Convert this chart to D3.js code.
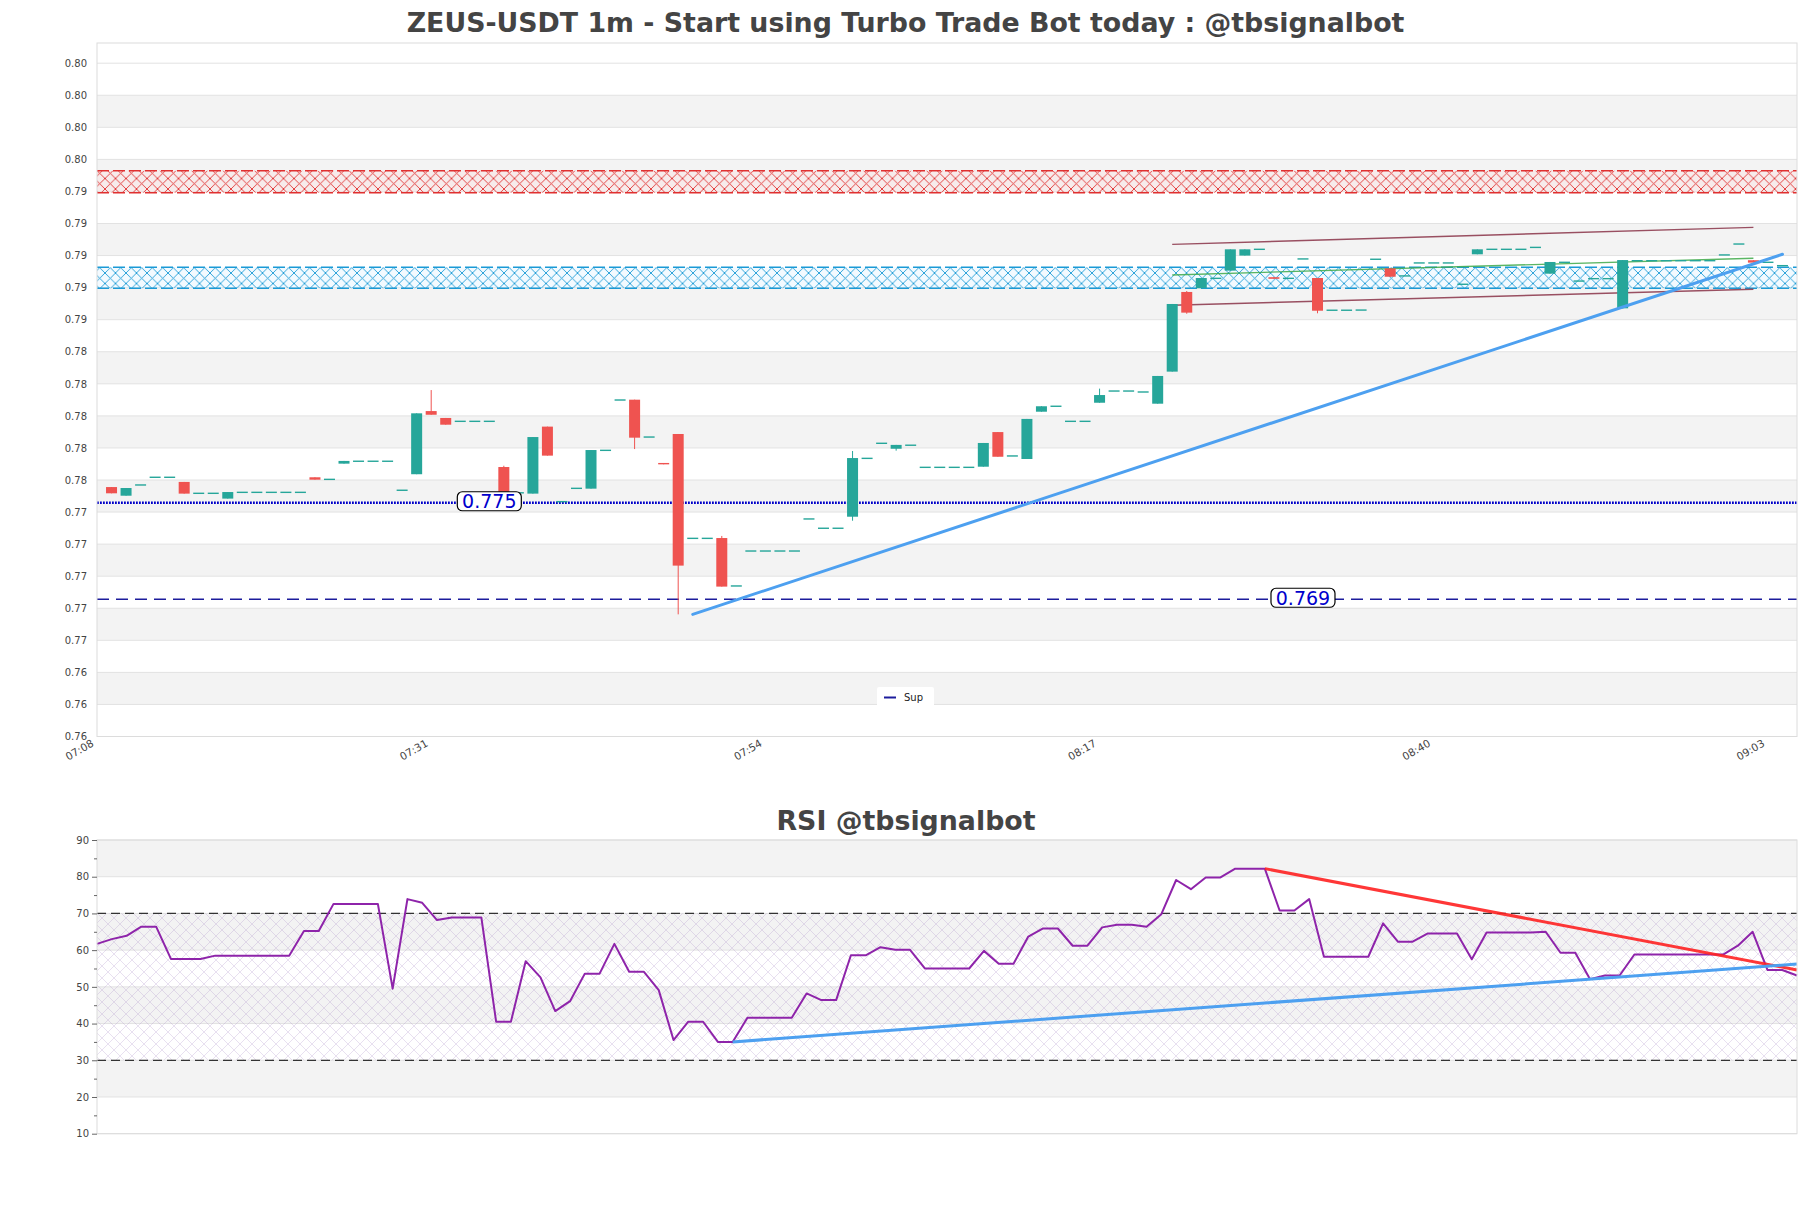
<!DOCTYPE html>
<html><head><meta charset="utf-8">
<script src="https://cdn.jsdelivr.net/npm/d3@7"></script>
<style>body{margin:0;background:#fff}svg{display:block}text{font-family:"DejaVu Sans",sans-serif}</style>
</head><body><svg id="c" width="1811" height="1208"></svg>
<script>
// ---------------- DATA ----------------
const times = ["07:09","07:10","07:11","07:12","07:13","07:14","07:15","07:16","07:17","07:18","07:19","07:20","07:21","07:22","07:23","07:24","07:25","07:26","07:27","07:28","07:29","07:30","07:31","07:32","07:33","07:34","07:35","07:36","07:37","07:38","07:39","07:40","07:41","07:42","07:43","07:44","07:45","07:46","07:47","07:48","07:49","07:50","07:51","07:52","07:53","07:54","07:55","07:56","07:57","07:58","07:59","08:00","08:01","08:02","08:03","08:04","08:05","08:06","08:07","08:08","08:09","08:10","08:11","08:12","08:13","08:14","08:15","08:16","08:17","08:18","08:19","08:20","08:21","08:22","08:23","08:24","08:25","08:26","08:27","08:28","08:29","08:30","08:31","08:32","08:33","08:34","08:35","08:36","08:37","08:38","08:39","08:40","08:41","08:42","08:43","08:44","08:45","08:46","08:47","08:48","08:49","08:50","08:51","08:52","08:53","08:54","08:55","08:56","08:57","08:58","08:59","09:00","09:01","09:02","09:03","09:04"];
const opens  = [0.77556,0.77502,0.77569,0.77617,0.77617,0.77588,0.77517,0.77517,0.77484,0.77523,0.77523,0.77523,0.77523,0.77523,0.77617,0.77604,0.77702,0.77717,0.77717,0.77717,0.77536,0.77636,0.78030,0.77987,0.77966,0.77966,0.77966,0.77681,0.77520,0.77515,0.77933,0.77465,0.77548,0.77546,0.77785,0.78099,0.78101,0.77868,0.77706,0.77887,0.77236,0.77236,0.77238,0.76939,0.77157,0.77157,0.77157,0.77157,0.77357,0.77299,0.77299,0.77371,0.77735,0.77829,0.77795,0.77817,0.77679,0.77679,0.77679,0.77679,0.77683,0.77899,0.77750,0.77731,0.78026,0.78060,0.77966,0.77966,0.78082,0.78155,0.78155,0.78149,0.78076,0.78276,0.78773,0.78796,0.78858,0.78906,0.79000,0.79039,0.78865,0.78858,0.78979,0.78860,0.78659,0.78659,0.78660,0.78977,0.78920,0.78873,0.78954,0.78954,0.78954,0.78821,0.79008,0.79039,0.79039,0.79039,0.79051,0.78887,0.78958,0.78841,0.78856,0.78856,0.78671,0.78968,0.78968,0.78968,0.78968,0.78968,0.78968,0.79004,0.79072,0.78971,0.78958,0.78937];
const closes = [0.77517,0.77550,0.77569,0.77617,0.77617,0.77515,0.77517,0.77517,0.77525,0.77523,0.77523,0.77523,0.77523,0.77523,0.77602,0.77604,0.77719,0.77717,0.77717,0.77717,0.77536,0.78016,0.78007,0.77945,0.77966,0.77966,0.77966,0.77520,0.77520,0.77868,0.77752,0.77465,0.77548,0.77787,0.77785,0.78099,0.77864,0.77868,0.77698,0.77066,0.77236,0.77236,0.76935,0.76939,0.77157,0.77157,0.77157,0.77157,0.77357,0.77299,0.77299,0.77737,0.77735,0.77829,0.77819,0.77817,0.77679,0.77679,0.77679,0.77679,0.77831,0.77745,0.77750,0.77981,0.78060,0.78060,0.77966,0.77966,0.78130,0.78155,0.78155,0.78149,0.78249,0.78698,0.78644,0.78860,0.78858,0.79039,0.79039,0.79039,0.78855,0.78858,0.78979,0.78656,0.78659,0.78659,0.78660,0.78977,0.78868,0.78873,0.78954,0.78954,0.78954,0.78821,0.79039,0.79039,0.79039,0.79039,0.79051,0.78960,0.78958,0.78841,0.78856,0.78856,0.78972,0.78968,0.78968,0.78968,0.78968,0.78968,0.78968,0.79004,0.79072,0.78956,0.78958,0.78937];
// wick extremes that reach beyond the body (index -> value)
const wickHighs = {22:0.78161, 27:0.77689, 42:0.77251, 51:0.77781, 68:0.78170, 74:0.78779};
const wickLows  = {36:0.77793, 39:0.76762, 51:0.77346, 54:0.77783, 74:0.78637, 83:0.78640};

const priceTicks = [0.760,0.762,0.764,0.766,0.768,0.770,0.772,0.774,0.776,0.778,0.780,0.782,0.784,0.786,0.788,0.790,0.792,0.794,0.796,0.798,0.800,0.802];
const timeTicks = ["07:08","07:31","07:54","08:17","08:40","09:03"];

const resistZone = [0.79392, 0.79529];
const supportZone = [0.78796, 0.78927];
const levelValues = [0.77458, 0.76856];
const levelLabels = ["0.775", "0.769"];
const levelLabelTimes = ["07:35", "08:31"];
const legendLabels = ["Sup"];

const channelIdx = [73, 113];
const channelUpper = [0.79070, 0.79176];
const channelMid = [0.78879, 0.78983];
const channelLower = [0.78690, 0.78790];
const trendIdx = [40, 115];
const trendVals = [0.76762, 0.79008];

const rsi = [61.7,63.0,63.9,66.4,66.4,57.6,57.6,57.6,58.5,58.5,58.5,58.5,58.5,58.5,65.2,65.2,72.6,72.6,72.6,72.6,49.5,73.9,72.9,68.2,68.9,68.9,68.9,40.5,40.5,57.0,52.6,43.4,46.1,53.6,53.6,61.7,54.1,54.1,49.1,35.5,40.5,40.5,35.0,35.0,41.6,41.6,41.6,41.6,48.2,46.4,46.4,58.6,58.6,60.8,60.1,60.1,55.0,55.0,55.0,55.0,59.8,56.3,56.3,63.7,65.9,65.9,61.2,61.2,66.2,66.9,66.9,66.4,69.8,79.1,76.6,79.8,79.8,82.2,82.2,82.2,70.8,70.8,73.9,58.2,58.2,58.2,58.2,67.3,62.3,62.3,64.5,64.5,64.5,57.5,64.8,64.8,64.8,64.8,65.0,59.3,59.3,52.1,53.1,53.1,58.8,58.8,58.8,58.8,58.8,58.8,58.8,61.2,65.0,54.6,54.6,53.1];
const rsiTicks = [10,20,30,40,50,60,70,80,90];
const rsiMinorTicks = [15,25,35,45,55,65,75,85];
const rsiBounds = [30, 70];
const rsiRedIdx = [79, 115], rsiRedVals = [82.2, 54.6];
const rsiBlueIdx = [43, 115], rsiBlueVals = [35.0, 56.2];

const mainTitle = "ZEUS-USDT 1m - Start using Turbo Trade Bot today : @tbsignalbot";
const rsiTitle = "RSI @tbsignalbot";

// ---------------- DRAW ----------------
const svg = d3.select('#c');
const W = 1811, H = 1208;
svg.append('rect').attr('width', W).attr('height', H).attr('fill', '#fff');

const parse = d3.timeParse('%H:%M');
const fmt = d3.timeFormat('%H:%M');
const L = 97, R = 1797, T = 43, B = 736.5;
const x = d3.scaleTime().domain([parse('07:08'), parse('09:05')]).range([L, R]);
const y = d3.scaleLinear().domain([0.760, 0.80326]).range([B, T]);

const defs = svg.append('defs');
function hatch(id, color, size, sw, bg) {
  const p = defs.append('pattern').attr('id', id).attr('patternUnits', 'userSpaceOnUse')
    .attr('width', size).attr('height', size);
  if (bg) p.append('rect').attr('width', size).attr('height', size).attr('fill', bg);
  p.append('path').attr('d', `M0,0L${size},${size}M${size},0L0,${size}M-1,${size-1}L1,${size+1}M${size-1},-1L${size+1},1`)
    .attr('stroke', color).attr('stroke-width', sw).attr('fill', 'none');
}
hatch('hRed', '#e03030', 10.5, 0.9, 'rgba(255,220,220,0.35)');
hatch('hBlue', '#1a9ad6', 10.5, 0.9, 'rgba(220,240,255,0.35)');
hatch('hRsi', 'rgba(170,140,200,0.45)', 12, 0.6, null);
defs.append('clipPath').attr('id', 'clipMain').append('rect').attr('x', L).attr('y', T).attr('width', R - L).attr('height', B - T);

// Title
svg.append('text').attr('x', 905.5).attr('y', 32).attr('text-anchor', 'middle')
  .attr('font-size', 26.8).attr('font-weight', 'bold').attr('fill', '#444').text(mainTitle);

const gm = svg.append('g');
// bands
for (let k = 0; k < priceTicks.length - 1; k++) {
  if (k % 2 === 1) gm.append('rect').attr('x', L).attr('width', R - L)
    .attr('y', y(priceTicks[k + 1])).attr('height', y(priceTicks[k]) - y(priceTicks[k + 1])).attr('fill', '#f3f3f3');
}
gm.selectAll('line.grid').data(priceTicks).join('line').attr('class', 'grid')
  .attr('x1', L).attr('x2', R).attr('y1', d => y(d)).attr('y2', d => y(d))
  .attr('stroke', '#e2e2e2').attr('stroke-width', 1);

// zones
function zone(vals, fill, color) {
  gm.append('rect').attr('x', L).attr('width', R - L).attr('y', y(vals[1])).attr('height', y(vals[0]) - y(vals[1]))
    .attr('fill', fill);
  vals.forEach(v => gm.append('line').attr('x1', L).attr('x2', R).attr('y1', y(v)).attr('y2', y(v))
    .attr('stroke', color).attr('stroke-width', 1.3).attr('stroke-dasharray', '12,4'));
}
zone(resistZone, 'url(#hRed)', '#e03030');
zone(supportZone, 'url(#hBlue)', '#1a9ad6');

// horizontal levels
gm.append('line').attr('x1', L).attr('x2', R).attr('y1', y(levelValues[0])).attr('y2', y(levelValues[0]))
  .attr('stroke', '#0000c8').attr('stroke-width', 2.6).attr('stroke-dasharray', '1.8,1.2');
gm.append('line').attr('x1', L).attr('x2', R).attr('y1', y(levelValues[1])).attr('y2', y(levelValues[1]))
  .attr('stroke', '#1c1c9c').attr('stroke-width', 1.5).attr('stroke-dasharray', '12,7');

// channel
const gc = gm.append('g').attr('clip-path', 'url(#clipMain)');
const xi = i => x(parse(times[i]));
[[channelUpper, '#8a3348'], [channelLower, '#8a3348'], [channelMid, '#3faa4a']].forEach(([v, c]) => {
  gc.append('line').attr('x1', xi(channelIdx[0])).attr('x2', xi(channelIdx[1]))
    .attr('y1', y(v[0])).attr('y2', y(v[1])).attr('stroke', c).attr('stroke-width', 1.4).attr('opacity', 0.85);
});

// candles
const bw = 11;
const cg = gm.append('g');
times.forEach((t, i) => {
  const o = opens[i], c = closes[i];
  const hi = wickHighs[i] !== undefined ? wickHighs[i] : Math.max(o, c);
  const lo = wickLows[i] !== undefined ? wickLows[i] : Math.min(o, c);
  const col = c < o ? '#ef5350' : '#26a69a';
  const cx = xi(i);
  if (hi > lo) cg.append('line').attr('x1', cx).attr('x2', cx).attr('y1', y(hi)).attr('y2', y(lo))
    .attr('stroke', col).attr('stroke-width', 1);
  const top = y(Math.max(o, c)), bot = y(Math.min(o, c));
  const h = Math.max(bot - top, 1.4);
  cg.append('rect').attr('x', cx - bw / 2).attr('width', bw).attr('y', (top + bot) / 2 - h / 2).attr('height', h).attr('fill', col);
});

// main trend line
gm.append('line').attr('x1', xi(trendIdx[0])).attr('x2', xi(trendIdx[1]))
  .attr('y1', y(trendVals[0])).attr('y2', y(trendVals[1]))
  .attr('stroke', '#4da0f0').attr('stroke-width', 3).attr('stroke-linecap', 'round');

// level labels
levelValues.forEach((v, k) => {
  const cx = x(parse(levelLabelTimes[k])), cy = y(v) - 1.5;
  const g = gm.append('g');
  g.append('rect').attr('x', cx - 32).attr('y', cy - 9.5).attr('width', 64).attr('height', 19).attr('rx', 5)
    .attr('fill', '#fff').attr('stroke', '#000').attr('stroke-width', 1.2);
  g.append('text').attr('x', cx).attr('y', cy + 7).attr('text-anchor', 'middle').attr('font-size', 19)
    .attr('fill', '#0000cc').text(levelLabels[k]);
});

// legend
const lg = gm.append('g');
lg.append('rect').attr('x', 877).attr('y', 687).attr('width', 57).attr('height', 20).attr('fill', '#fff').attr('rx', 2);
lg.append('line').attr('x1', 884).attr('x2', 896).attr('y1', 697.5).attr('y2', 697.5).attr('stroke', '#1c1c9c').attr('stroke-width', 2);
lg.append('text').attr('x', 904).attr('y', 701).attr('font-size', 10).attr('fill', '#222').text(legendLabels[0]);

// border
gm.append('rect').attr('x', L).attr('y', T).attr('width', R - L).attr('height', B - T)
  .attr('fill', 'none').attr('stroke', '#dcdcdc').attr('stroke-width', 1);

// axes
const ya = svg.append('g').attr('transform', `translate(${L},0)`)
  .call(d3.axisLeft(y).tickValues(priceTicks).tickFormat(d3.format('.2f')).tickSize(0).tickPadding(10));
ya.select('.domain').remove();
ya.selectAll('text').attr('font-size', 10).attr('fill', '#444').attr('font-family', '"DejaVu Sans",sans-serif');

const xa = svg.append('g').attr('transform', `translate(0,${B})`)
  .call(d3.axisBottom(x).tickValues(timeTicks.map(parse)).tickFormat(fmt).tickSize(0).tickPadding(0));
xa.select('.domain').remove();
xa.selectAll('text').attr('font-size', 10.5).attr('fill', '#444').attr('font-family', '"DejaVu Sans",sans-serif')
  .attr('text-anchor', 'end').attr('dy', null).attr('y', 0)
  .attr('transform', 'translate(-3,9) rotate(-30)');

// ---------------- RSI ----------------
const RT = 840, RB = 1133.7;
const rx = d3.scaleLinear().domain([0, rsi.length - 1]).range([L, R]);
const ry = d3.scaleLinear().domain([10, 90]).range([RB, RT]);

svg.append('text').attr('x', 906).attr('y', 830).attr('text-anchor', 'middle')
  .attr('font-size', 26.8).attr('font-weight', 'bold').attr('fill', '#444').text(rsiTitle);

const gr = svg.append('g');
for (let k = 0; k < rsiTicks.length - 1; k++) {
  if (k % 2 === 1) gr.append('rect').attr('x', L).attr('width', R - L)
    .attr('y', ry(rsiTicks[k + 1])).attr('height', ry(rsiTicks[k]) - ry(rsiTicks[k + 1])).attr('fill', '#f3f3f3');
}
gr.selectAll('line.grid').data(rsiTicks).join('line').attr('class', 'grid')
  .attr('x1', L).attr('x2', R).attr('y1', d => ry(d)).attr('y2', d => ry(d))
  .attr('stroke', '#e2e2e2').attr('stroke-width', 1);
gr.append('rect').attr('x', L).attr('width', R - L).attr('y', ry(rsiBounds[1])).attr('height', ry(rsiBounds[0]) - ry(rsiBounds[1]))
  .attr('fill', 'url(#hRsi)');
rsiBounds.forEach(v => gr.append('line').attr('x1', L).attr('x2', R).attr('y1', ry(v)).attr('y2', ry(v))
  .attr('stroke', '#333').attr('stroke-width', 1.3).attr('stroke-dasharray', '9,5'));

gr.append('path').datum(rsi).attr('d', d3.line().x((d, i) => rx(i)).y(d => ry(d)))
  .attr('fill', 'none').attr('stroke', '#8e24aa').attr('stroke-width', 2).attr('stroke-linejoin', 'round');
gr.append('line').attr('x1', rx(rsiRedIdx[0])).attr('x2', rx(rsiRedIdx[1])).attr('y1', ry(rsiRedVals[0])).attr('y2', ry(rsiRedVals[1]))
  .attr('stroke', '#ff2222').attr('stroke-width', 3).attr('opacity', 0.9);
gr.append('line').attr('x1', rx(rsiBlueIdx[0])).attr('x2', rx(rsiBlueIdx[1])).attr('y1', ry(rsiBlueVals[0])).attr('y2', ry(rsiBlueVals[1]))
  .attr('stroke', '#4da0f0').attr('stroke-width', 3);
gr.append('rect').attr('x', L).attr('y', RT).attr('width', R - L).attr('height', RB - RT)
  .attr('fill', 'none').attr('stroke', '#dcdcdc').attr('stroke-width', 1);

const rya = svg.append('g').attr('transform', `translate(${L},0)`)
  .call(d3.axisLeft(ry).tickValues(rsiTicks).tickFormat(d3.format('d')).tickSize(5).tickPadding(3));
rya.select('.domain').remove();
rya.selectAll('line').attr('stroke', '#666');
rya.selectAll('text').attr('font-size', 10).attr('fill', '#444').attr('font-family', '"DejaVu Sans",sans-serif');
const rym = svg.append('g').attr('transform', `translate(${L},0)`)
  .call(d3.axisLeft(ry).tickValues(rsiMinorTicks).tickFormat('').tickSize(3));
rym.select('.domain').remove();
rym.selectAll('line').attr('stroke', '#666');
</script></body></html>
